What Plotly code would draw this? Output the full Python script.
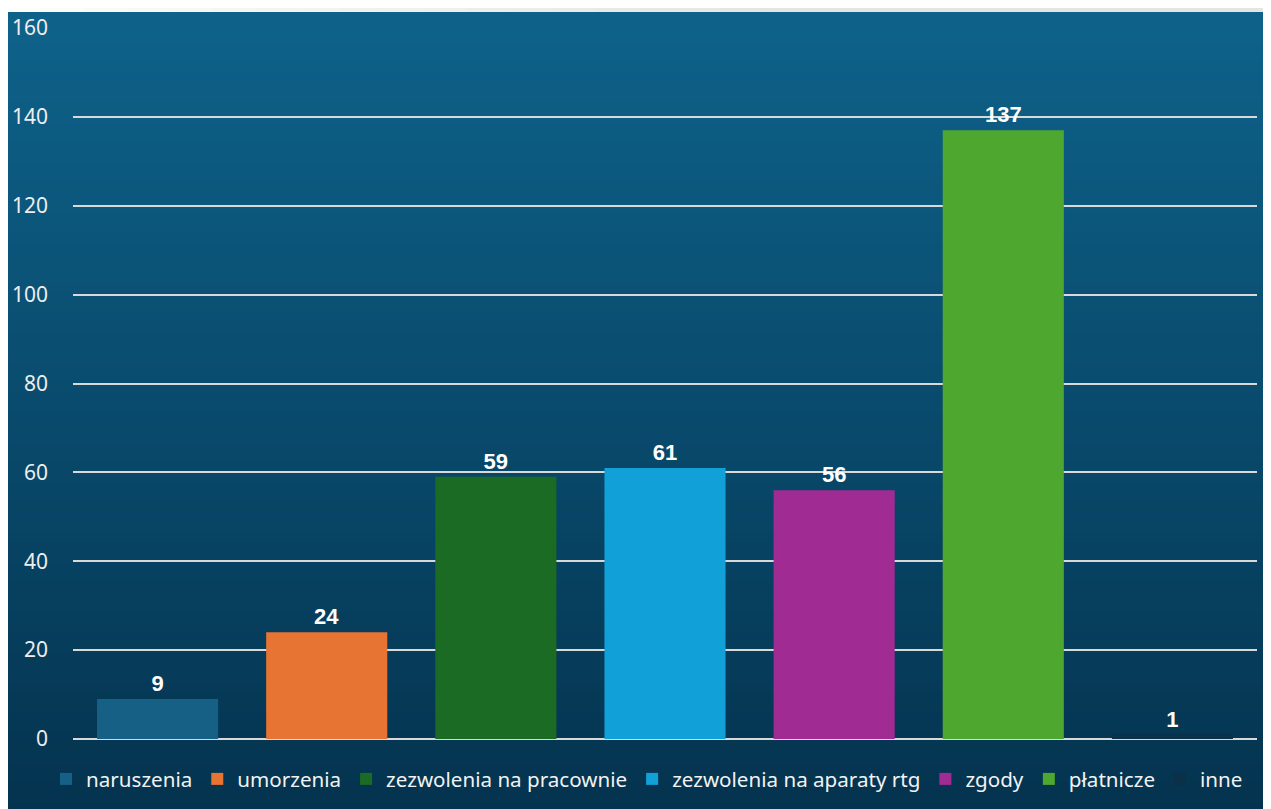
import plotly.graph_objects as go

# dane
categories = ['naruszenia', 'umorzenia', 'zezwolenia na pracownie', 'zezwolenia na aparaty rtg',
              'zgody', 'płatnicze', 'inne']
values = [9, 24, 59, 61, 56, 137, 1]
colors = ['#176085', '#e87433', '#1c6b24', '#12a0d8', '#a02b93', '#4ea72e', '#0c3048']
y_ticks = [0, 20, 40, 60, 80, 100, 120, 140, 160]

# strona html ma margines 8px, wiec figura jest o 8px mniejsza
OFF = 8
W, H = 1271 - OFF, 809 - OFF
L, R, T, B = 73 - OFF, 14, 28 - OFF, 70
pw, ph = W - L - R, H - T - B


def px_x(p):
    # p we wspolrzednych strony
    return (p - OFF - L) / pw


def px_y(p):
    return (H - B - (p - OFF)) / ph


fig = go.Figure()
for name, val, col in zip(categories, values, colors):
    fig.add_trace(go.Bar(
        x=[name], y=[val], name=name,
        marker=dict(color=col, line=dict(width=0)),
        text=[str(val)], textposition='outside',
        textfont=dict(family='Liberation Sans', size=22, color='white', weight='bold'),
        cliponaxis=False,
    ))

# tlo z gradientem (paski)
shapes = []
top_c = (14, 98, 138)
bot_c = (4, 51, 79)
n = 80
y0p, y1p = 12, 812
for i in range(n):
    a = y0p + (y1p - y0p) * i / n
    b = y0p + (y1p - y0p) * (i + 1) / n + 1
    t = i / (n - 1)
    c = tuple(round(top_c[k] + (bot_c[k] - top_c[k]) * t) for k in range(3))
    shapes.append(dict(type='rect', xref='paper', yref='paper', layer='below',
                       x0=px_x(0), x1=px_x(1280), y0=px_y(b), y1=px_y(a),
                       fillcolor='rgb(%d,%d,%d)' % c, line=dict(width=0)))
# jasny pasek u gory
m = 30
for i in range(m):
    t = i / (m - 1)
    g = round(252 - 24 * min(1, t * 1.6))
    shapes.append(dict(type='rect', xref='paper', yref='paper', layer='below',
                       x0=px_x(1271 * i / m), x1=px_x(1271 * (i + 1) / m + 1), y0=px_y(12), y1=px_y(0),
                       fillcolor='rgb(%d,%d,%d)' % (g, g, g), line=dict(width=0)))

fig.update_layout(
    width=W, height=H,
    margin=dict(l=L, r=R, t=T, b=B, pad=0, autoexpand=False),
    paper_bgcolor='white',
    plot_bgcolor='rgba(0,0,0,0)',
    barmode='relative',
    bargap=0.284,
    shapes=shapes,
    showlegend=True,
    legend=dict(orientation='h', x=px_x(46), xanchor='left', y=px_y(779), yanchor='middle',
                font=dict(family='Noto Sans', size=20.6, color='#f2f2f2'),
                bgcolor='rgba(0,0,0,0)', itemwidth=30, tracegroupgap=0),
    xaxis=dict(showticklabels=False, showgrid=False, zeroline=False, showline=False,
               range=[-0.5, 6.5]),
    yaxis=dict(range=[0, 160], tickvals=y_ticks, showgrid=True, gridcolor='#d9d9d9', gridwidth=1.5,
               zeroline=True, zerolinecolor='#d9d9d9', zerolinewidth=1.5, showline=False,
               ticks='', ticklabelstandoff=24,
               tickfont=dict(family='Noto Sans', size=21, color='#eeeeee')),
)

fig.write_html('out.html')
